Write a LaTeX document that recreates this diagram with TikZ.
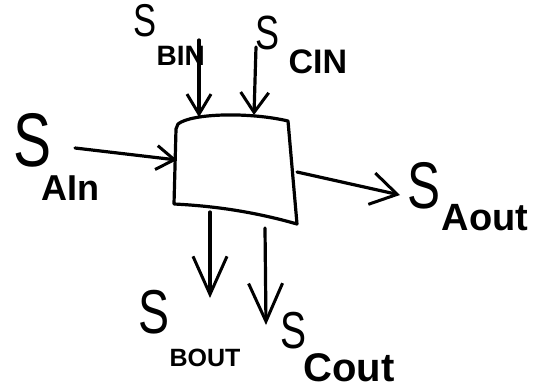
\documentclass[tikz,border=0pt]{standalone}
\usepackage{fontspec}
\setmainfont{Liberation Sans}
\usetikzlibrary{arrows.meta}
\begin{document}
\begin{tikzpicture}[x=1pt, y=-1pt, line width=3.2pt, line cap=round, line join=round,
  sigarrow/.style args={#1/#2}{-{Straight Barb[length=#1pt, width=#2pt, line width=3pt]}},
  bigs/.style={inner sep=0pt, anchor=base west, xscale=0.75, transform shape,
    font=\fontsize{#1}{#1}\selectfont},
  subs/.style={inner sep=0pt, anchor=base west, font=\bfseries\fontsize{#1}{#1}\selectfont}]
\useasboundingbox (0,0) rectangle (536,389);

% the block
\coordinate (tl) at (178,124);
\coordinate (tr) at (288,121);
\coordinate (br) at (297,224);
\coordinate (bl) at (174,204);
\draw (176,129) -- (tl) .. controls (192,113) and (250,112) .. (tr)
      -- (br) .. controls (255,212) and (215,206) .. (bl) -- cycle;

% connector end points
\coordinate (ain0) at (75,148);  \coordinate (ain1) at (177,160);
\coordinate (bin0) at (199,40);  \coordinate (bin1) at (199,117);
\coordinate (cin0) at (256,47);  \coordinate (cin1) at (254,115);
\coordinate (aout0) at (297,172); \coordinate (aout1) at (400,195);
\coordinate (bout0) at (210,212); \coordinate (bout1) at (210,298);
\coordinate (cout0) at (265,228); \coordinate (cout1) at (266,325);

\draw[sigarrow=18/24] (ain0) -- (ain1);
\draw[sigarrow=20/24] (bin0) -- (bin1);
\draw[sigarrow=20/28] (cin0) -- (cin1);
\draw[sigarrow=26/32] (aout0) -- (aout1);
\draw[sigarrow=38/34] (bout0) -- (bout1);
\draw[sigarrow=38/34] (cout0) -- (cout1);

% signal labels
\node[bigs=76] (ainS) at (12,166) {S};
\node[subs=36] (ainT) at (40,200) {AIn};
\node[bigs=46] (binS) at (132,36) {S};
\node[subs=28] (binT) at (155,65) {BIN};
\node[bigs=48] (cinS) at (254,49) {S};
\node[subs=34] (cinT) at (287,73) {CIN};
\node[bigs=66] (aoutS) at (406,208) {S};
\node[subs=38] (aoutT) at (440,230) {Aout};
\node[bigs=62] (boutS) at (137,333) {S};
\node[subs=25] (boutT) at (168,366) {BOUT};
\node[bigs=52] (coutS) at (279,348) {S};
\node[subs=40] (coutT) at (302,381) {Cout};
\end{tikzpicture}
\end{document}
